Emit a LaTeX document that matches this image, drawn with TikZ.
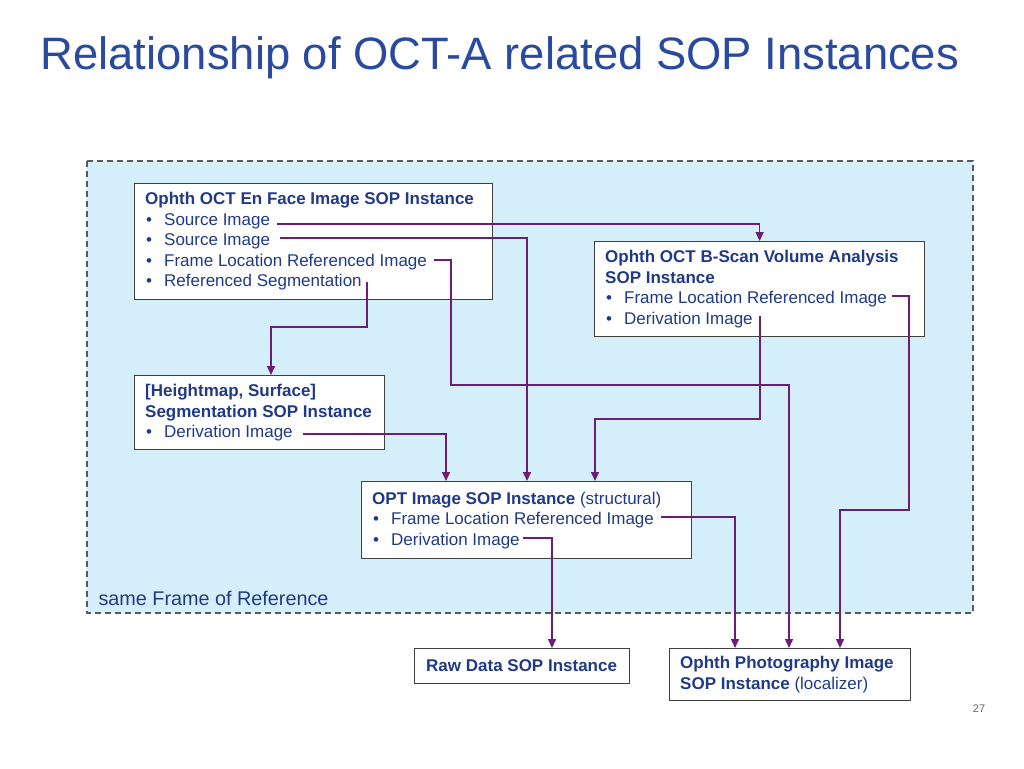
\documentclass[tikz,border=0pt]{standalone}
\usepackage{fontspec}
\setmainfont{Liberation Sans}
\usepackage{tikz}
\usetikzlibrary{arrows.meta}
\definecolor{titleblue}{RGB}{42,74,158}
\definecolor{textblue}{RGB}{33,58,135}
\definecolor{forfill}{RGB}{212,238,250}
\definecolor{linkpurple}{RGB}{110,28,120}
\newcommand{\itm}[1]{\makebox[19pt][l]{\hspace{1pt}\textbullet}#1}

\begin{document}
\begin{tikzpicture}[x=1pt,y=-1pt]
\tikzstyle{every node}=[font=\fontsize{17}{20.5}\selectfont, text=textblue]
\tikzstyle{sopbox}=[draw=black!75, line width=1.2pt, fill=white, anchor=north west, inner sep=0pt]
\tikzstyle{soptext}=[anchor=west, align=left, inner sep=0pt]
\tikzstyle{reflink}=[draw=linkpurple, line width=1.5pt, -{Triangle[width=8pt,length=9pt]}]
\useasboundingbox (0,0) rectangle (1024,768);
\fill[white] (0,0) rectangle (1024,768);
\node[anchor=base west, text=titleblue, font=\fontsize{45.4}{50}\selectfont] (title) at (37,70) {Relationship of OCT-A related SOP Instances};
% same frame of reference region
\draw[draw=black!65, line width=1.5pt, dash pattern=on 6pt off 4pt, fill=forfill] (87,161) rectangle (973,613);
\node[anchor=west, font=\fontsize{19.8}{22}\selectfont] (sameref) at (95,598) {same Frame of Reference};
% boxes
\node[sopbox, minimum width=358pt, minimum height=116pt] (enface) at (134,183) {};
\node[soptext] (enfacetxt) at ([xshift=11pt]enface.west) {\textbf{Ophth OCT En Face Image SOP Instance}\\ \itm{Source Image}\\ \itm{Source Image}\\ \itm{Frame Location Referenced Image}\\ \itm{Referenced Segmentation}};
\node[sopbox, minimum width=330pt, minimum height=95pt] (bscan) at (594,241) {};
\node[soptext] (bscantxt) at ([xshift=11pt]bscan.west) {\textbf{Ophth OCT B-Scan Volume Analysis}\\ \textbf{SOP Instance}\\ \itm{Frame Location Referenced Image}\\ \itm{Derivation Image}};
\node[sopbox, minimum width=250pt, minimum height=74pt] (hmap) at (134,375) {};
\node[soptext] (hmaptxt) at ([xshift=11pt]hmap.west) {\textbf{[Heightmap, Surface]}\\ \textbf{Segmentation SOP Instance}\\ \itm{Derivation Image}};
\node[sopbox, minimum width=330pt, minimum height=77pt] (opt) at (361,481) {};
\node[soptext] (opttxt) at ([xshift=11pt]opt.west) {\textbf{OPT Image SOP Instance} (structural)\\ \itm{Frame Location Referenced Image}\\ \itm{Derivation Image}};
\node[sopbox, minimum width=215pt, minimum height=35pt] (raw) at (414,648) {};
\node[soptext] (rawtxt) at ([xshift=12pt]raw.west) {\textbf{Raw Data SOP Instance}};
\node[sopbox, minimum width=241pt, minimum height=52pt] (photo) at (669,648) {};
\node[soptext] (phototxt) at ([xshift=11pt]photo.west) {\textbf{Ophth Photography Image}\\ \textbf{SOP Instance} (localizer)};
\node[text=black!60, font=\fontsize{11}{13}\selectfont] (pagenum) at (979,709) {27};
% reference ends
\coordinate (srcone) at (277,224);
\coordinate (srctwo) at (280,238);
\coordinate (enfrl) at (434,260);
\coordinate (enseg) at (367,282);
\coordinate (bsfrl) at (892,296);
\coordinate (bsder) at (760,316);
\coordinate (hmder) at (303,434);
\coordinate (opfrl) at (661,517);
\coordinate (opder) at (523,538);
% references
\draw[reflink] (srcone) -| (bscan.north);
\draw[reflink] (srctwo) -| ([xshift=166pt]opt.north west);
\draw[reflink] (enfrl) -| (451,385) -| ([xshift=120pt]photo.north west);
\draw[reflink] (enseg) -- (367,327) -| ([xshift=137pt]hmap.north west);
\draw[reflink] (bsfrl) -| (909,510) -| ([xshift=171pt]photo.north west);
\draw[reflink] (bsder) -- (760,419) -| ([xshift=234pt]opt.north west);
\draw[reflink] (hmder) -| ([xshift=85pt]opt.north west);
\draw[reflink] (opfrl) -| ([xshift=66pt]photo.north west);
\draw[reflink] (opder) -| ([xshift=138pt]raw.north west);
\end{tikzpicture}
\end{document}
